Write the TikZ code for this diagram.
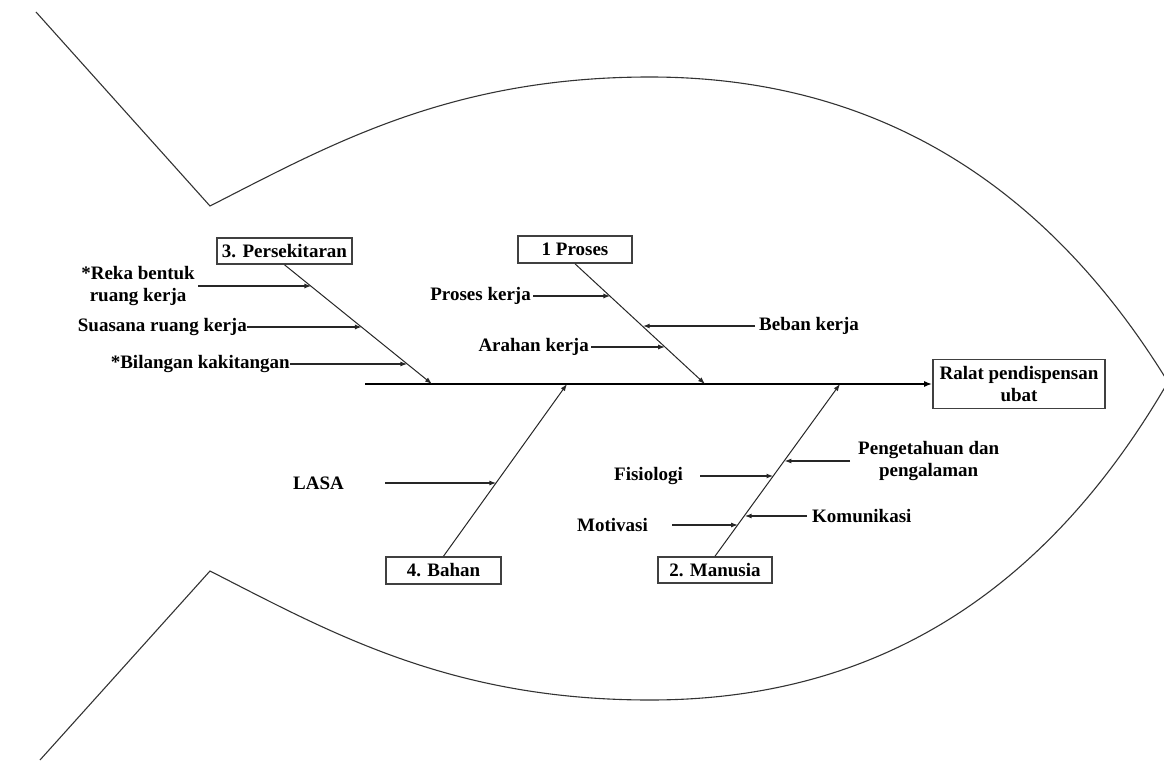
\documentclass[tikz,border=0pt]{standalone}
\usepackage{fontspec}
\setmainfont{Liberation Serif}
\usetikzlibrary{arrows.meta,calc}
\begin{document}
\begin{tikzpicture}[x=1bp,y=-1bp,
  outline/.style={draw=black!80, line width=1.1bp},
  catbox/.style={draw=black!75, line width=1.6bp, inner sep=0pt, align=center,
    font=\bfseries\fontsize{19bp}{22bp}\selectfont},
  lbl/.style={inner sep=0pt, align=center, font=\bfseries\fontsize{19bp}{22bp}\selectfont},
  bone/.style={draw=black!85, line width=1bp, -{Latex[length=7bp,width=5bp]}},
  sub/.style={draw=black!85, line width=1.4bp, -{Latex[length=7bp,width=5bp]}},
  spine/.style={draw=black, line width=2bp, -{Latex[length=8bp,width=6bp]}}
]
\useasboundingbox (0,0) rectangle (1164,762);

% fish outline
\coordinate (tailtop) at (36,12);
\coordinate (cornertop) at (210,206);
\coordinate (crown) at (650,77);
\coordinate (nose) at (1168,382);
\coordinate (belly) at (650,700);
\coordinate (cornerbot) at (210,571);
\coordinate (tailbot) at (40,760);
\draw[outline] (tailtop) -- (cornertop)
  .. controls (330,144.8) and (450,77) .. (crown)
  .. controls (850,77) and (1032,160.5) .. (nose);
\draw[outline] (tailbot) -- (cornerbot)
  .. controls (330,632.2) and (450,700) .. (belly)
  .. controls (850,700) and (1032,616.5) .. (nose);

% head and category boxes
\node[catbox, minimum width=172bp, minimum height=49bp] (ralat) at (1019,384) {Ralat pendispensan\\ubat};
\node[catbox, minimum width=135bp, minimum height=26bp] (persek) at (284.5,251) {3. Persekitaran};
\node[catbox, minimum width=114bp, minimum height=27bp] (proses) at (575,249.5) {1 Proses};
\node[catbox, minimum width=115bp, minimum height=27bp] (bahan) at (443.5,570.5) {4. Bahan};
\node[catbox, minimum width=114bp, minimum height=26bp] (manusia) at (715,570) {2. Manusia};

% spine
\coordinate (tailend) at (365,384);
\draw[spine] (tailend) -- (ralat.west);

% bone ends on spine
\coordinate (p3) at (432,384);
\coordinate (p1) at (705,384);
\coordinate (p4) at (567,384);
\coordinate (p2) at (840,384);

\draw[bone] (persek.south) -- (p3);
\draw[bone] (proses.south) -- (p1);
\draw[bone] (bahan.north) -- (p4);
\draw[bone] (manusia.north) -- (p2);

% points on bones
\coordinate (r1) at ($(persek.south)!0.183!(p3)$);
\coordinate (r2) at ($(persek.south)!0.525!(p3)$);
\coordinate (r3) at ($(persek.south)!0.833!(p3)$);
\coordinate (q1) at ($(proses.south)!0.273!(p1)$);
\coordinate (q2) at ($(proses.south)!0.521!(p1)$);
\coordinate (q3) at ($(proses.south)!0.694!(p1)$);
\coordinate (b1) at ($(bahan.north)!0.428!(p4)$);
\coordinate (m1) at ($(manusia.north)!0.468!(p2)$);
\coordinate (m2) at ($(manusia.north)!0.555!(p2)$);
\coordinate (m3) at ($(manusia.north)!0.237!(p2)$);
\coordinate (m4) at ($(manusia.north)!0.185!(p2)$);

% labels
\node[lbl, anchor=east] (reka) at (195,286) {*Reka bentuk\\ruang kerja};
\node[lbl, anchor=east] (suasana) at (247,327) {Suasana ruang kerja};
\node[lbl, anchor=east] (bilangan) at (290,364) {*Bilangan kakitangan};
\node[lbl, anchor=east] (pkerja) at (531,296) {Proses kerja};
\node[lbl, anchor=west] (beban) at (759,326) {Beban kerja};
\node[lbl, anchor=east] (arahan) at (589,347) {Arahan kerja};
\node[lbl, anchor=east] (lasa) at (344,483) {LASA};
\node[lbl, anchor=east] (fisio) at (683,476) {Fisiologi};
\node[lbl, anchor=east] (motiv) at (648,525) {Motivasi};
\node[lbl, anchor=west] (penget) at (858,461) {Pengetahuan dan\\pengalaman};
\node[lbl, anchor=west] (komun) at (812,516) {Komunikasi};

% sub-cause arrows
\draw[sub] ([xshift=3bp]reka.east) -- (reka.east -| r1);
\draw[sub] (suasana.east) -- (suasana.east -| r2);
\draw[sub] (bilangan.east) -- (bilangan.east -| r3);
\draw[sub] ([xshift=2bp]pkerja.east) -- (pkerja.east -| q1);
\draw[sub] ([xshift=-4bp]beban.west) -- (beban.west -| q2);
\draw[sub] ([xshift=2bp]arahan.east) -- (arahan.east -| q3);
\draw[sub] ([xshift=41bp]lasa.east) -- (lasa.east -| b1);
\draw[sub] ([xshift=17bp]fisio.east) -- (fisio.east -| m1);
\draw[sub] ([xshift=-8bp]penget.west) -- (penget.west -| m2);
\draw[sub] ([xshift=-5bp]komun.west) -- (komun.west -| m3);
\draw[sub] ([xshift=24bp]motiv.east) -- (motiv.east -| m4);
\end{tikzpicture}
\end{document}
